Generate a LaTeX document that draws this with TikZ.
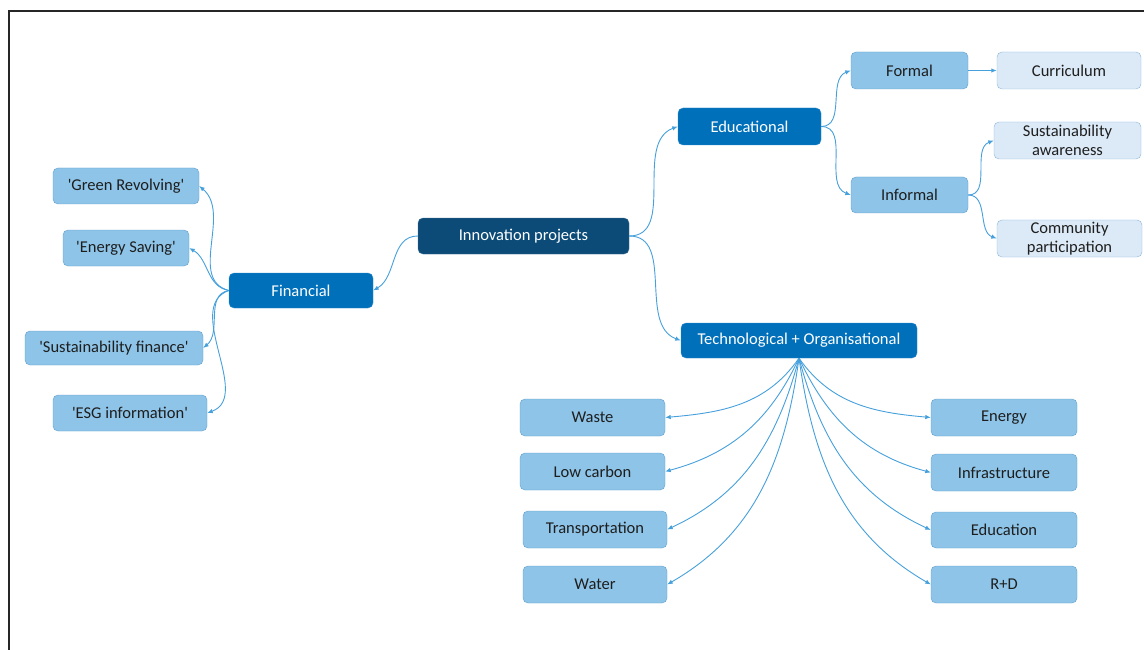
\documentclass[tikz,border=0pt]{standalone}
\usepackage{fontspec}
\setmainfont{Carlito}
\usetikzlibrary{arrows.meta}
\definecolor{navy}{RGB}{12,75,120}
\definecolor{midblue}{RGB}{0,112,187}
\definecolor{lightb}{RGB}{141,196,232}
\definecolor{lightbd}{RGB}{95,158,205}
\definecolor{paleb}{RGB}{220,234,247}
\definecolor{palebd}{RGB}{140,182,220}
\definecolor{connc}{RGB}{70,160,220}
\definecolor{txt}{RGB}{30,30,30}
\newcommand{\sq}{\textquotesingle}
\begin{document}
\begin{tikzpicture}[x=1pt,y=-1pt,
  box/.style={rounded corners=5pt, minimum height=36pt, inner sep=2pt, font=\fontsize{16.5}{19}\selectfont, align=center},
  rootbox/.style={box, fill=navy, draw=navy!80!white, text=white},
  mainbox/.style={box, fill=midblue, draw=midblue!80!white, text=white},
  leafbox/.style={box, fill=lightb, draw=lightbd, text=txt},
  palebox/.style={box, fill=paleb, draw=palebd, text=txt},
  link/.style={draw=connc, line width=0.9pt, -{Latex[length=5.5pt,width=4.5pt]}}
]
\useasboundingbox (0,0) rectangle (1144,650);
\coordinate (fr1) at (9,650);
\coordinate (fr2) at (9,11);
\coordinate (fr3) at (1144,11);
\draw[line width=2pt, black!85] (fr1) -- (fr2) -- (fr3);

% central
\node[rootbox, minimum width=211pt] (inn) at (523.5,236) {Innovation projects};
\node[mainbox, minimum width=144pt, minimum height=35pt] (fin) at (301,290.5) {Financial};
\node[mainbox, minimum width=143pt, minimum height=37pt] (edu) at (749.5,126.5) {Educational};
\node[mainbox, minimum width=236pt, minimum height=35pt] (tech) at (799,340.5) {Technological + Organisational};

% educational
\node[leafbox, minimum width=117pt, minimum height=37pt] (formal) at (909.5,70.5) {Formal};
\node[leafbox, minimum width=117pt, minimum height=36pt] (informal) at (909.5,195) {Informal};
\node[palebox, minimum width=144pt, minimum height=37pt] (curr) at (1069,70.5) {Curriculum};
\node[palebox, minimum width=147pt, minimum height=37pt] (sa) at (1067.5,140.5) {Sustainability\\awareness};
\node[palebox, minimum width=145pt, minimum height=37pt] (cp) at (1069.5,238.5) {Community\\participation};

% financial
\node[leafbox, minimum width=146pt] (gr) at (126,186) {\sq Green Revolving\sq};
\node[leafbox, minimum width=126pt] (es) at (126,248) {\sq Energy Saving\sq};
\node[leafbox, minimum width=178pt, minimum height=34pt] (sf) at (114,348) {\sq Sustainability finance\sq};
\node[leafbox, minimum width=154pt] (esg) at (130,413) {\sq ESG information\sq};

% technological
\node[leafbox, minimum width=145pt, minimum height=37pt] (waste) at (592.5,417.5) {Waste};
\node[leafbox, minimum width=145pt, minimum height=37pt] (lowc) at (592.5,471.5) {Low carbon};
\node[leafbox, minimum width=144pt, minimum height=37pt] (trans) at (595,529.5) {Transportation};
\node[leafbox, minimum width=144pt, minimum height=37pt] (water) at (595,584.5) {Water};
\node[leafbox, minimum width=146pt, minimum height=37pt] (energy) at (1004,417.5) {Energy};
\node[leafbox, minimum width=146pt, minimum height=37pt] (infra) at (1004,472.5) {Infrastructure};
\node[leafbox, minimum width=146pt, minimum height=36pt] (educ) at (1004,530) {Education};
\node[leafbox, minimum width=146pt, minimum height=37pt] (rd) at (1004,584.5) {R+D};

% connectors
\draw[link] (inn.west) to[out=180,in=30] (fin.east);
\draw[link] (inn.east) to[out=0,in=200] (edu.west);
\draw[link] (inn.east) to[out=0,in=160] (tech.west);

\draw[link] (fin.west) to[out=165,in=-40] (gr.east);
\draw[link] (fin.west) to[out=170,in=-30] (es.east);
\draw[link] (fin.west) to[out=190,in=40] (sf.east);
\draw[link] (fin.west) to[out=200,in=20] (esg.east);

\draw[link] (edu.east) to[out=0,in=200] (formal.west);
\draw[link] (edu.east) to[out=0,in=160] (informal.west);
\draw[link] (formal.east) -- (curr.west);
\draw[link] (informal.east) to[out=0,in=200] (sa.west);
\draw[link] (informal.east) to[out=0,in=160] (cp.west);

\draw[link] (tech.south) to[out=235,in=5] (waste.east);
\draw[link] (tech.south) to[out=245,in=15] (lowc.east);
\draw[link] (tech.south) to[out=255,in=25] (trans.east);
\draw[link] (tech.south) to[out=262,in=30] (water.east);
\draw[link] (tech.south) to[out=305,in=175] (energy.west);
\draw[link] (tech.south) to[out=295,in=165] (infra.west);
\draw[link] (tech.south) to[out=285,in=155] (educ.west);
\draw[link] (tech.south) to[out=278,in=150] (rd.west);
\end{tikzpicture}
\end{document}
